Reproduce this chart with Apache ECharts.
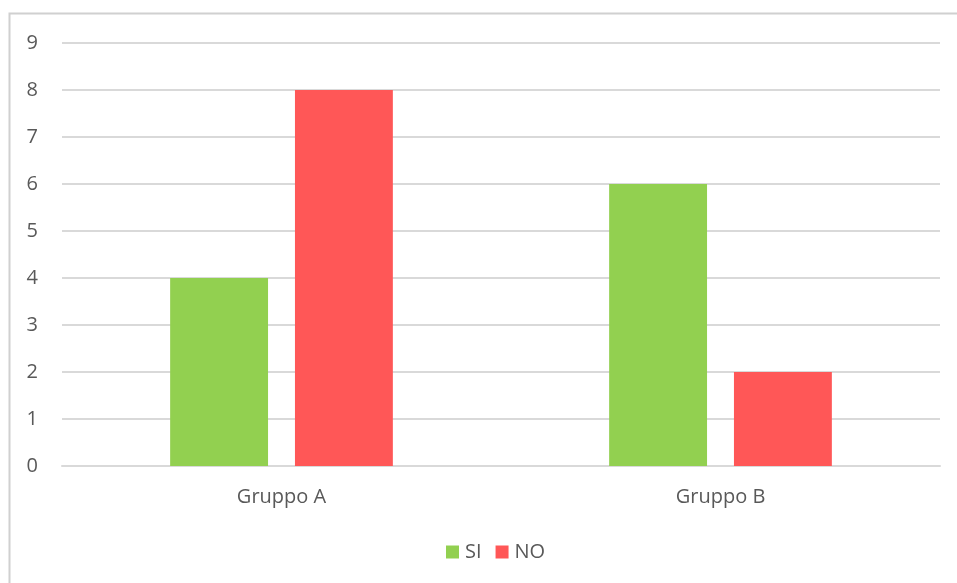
<!DOCTYPE html>
<html>
<head>
<meta charset="utf-8">
<script src="https://cdn.jsdelivr.net/npm/echarts@6/dist/echarts.min.js"></script>
<style>
  html, body { margin: 0; padding: 0; background: #fff; }
  #chart { width: 957px; height: 583px; }
</style>
</head>
<body>
<div id="chart"></div>
<script>
  // dati
  var categories = ['Gruppo A', 'Gruppo B'];
  var siValues = [4, 6];
  var noValues = [8, 2];
  var seriesNames = ['SI', 'NO'];

  var labelColor = '#595959';
  var gridColor = '#d9d9d9';
  var font = '"Open Sans", "Noto Sans", sans-serif';

  var chart = echarts.init(document.getElementById('chart'));
  chart.setOption({
    animation: false,
    color: ['#92d050', '#ff5757'],
    graphic: [{
      type: 'rect',
      shape: { x: 9.5, y: 13.5, width: 960, height: 600 },
      style: { fill: 'none', stroke: '#d0d0d0', lineWidth: 2 },
      silent: true
    }],
    legend: {
      data: seriesNames,
      bottom: 16,
      left: 441,
      icon: 'rect',
      itemWidth: 13,
      itemHeight: 13,
      itemGap: 14,
      textStyle: { color: labelColor, fontSize: 20, fontFamily: font, padding: [0, 0, 0, 1] }
    },
    grid: { left: 62, right: 17, top: 43, bottom: 117 },
    xAxis: {
      type: 'category',
      data: categories,
      axisLine: { lineStyle: { color: gridColor, width: 2 } },
      axisTick: { show: false },
      axisLabel: { color: labelColor, fontSize: 20, fontFamily: font, margin: 21 }
    },
    yAxis: {
      type: 'value',
      min: 0,
      max: 9,
      interval: 1,
      axisLine: { show: false },
      axisTick: { show: false },
      axisLabel: { color: labelColor, fontSize: 20, fontFamily: font, margin: 24 },
      splitLine: { lineStyle: { color: gridColor, width: 2 } }
    },
    series: [{
      name: seriesNames[0],
      type: 'bar',
      data: siValues,
      barWidth: '22.3%',
      barGap: '27.5%'
    }, {
      name: seriesNames[1],
      type: 'bar',
      data: noValues,
      barWidth: '22.3%'
    }]
  });
</script>
</body>
</html>
